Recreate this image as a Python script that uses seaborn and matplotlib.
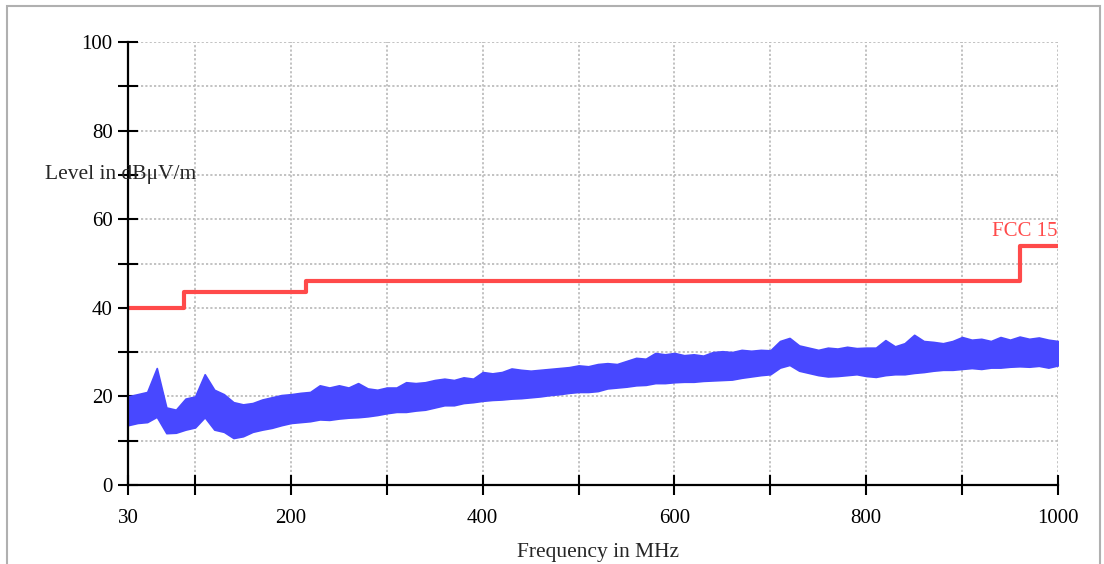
import numpy as np
import pandas as pd
import matplotlib
matplotlib.use('Agg')
import matplotlib.pyplot as plt
import seaborn as sns
from matplotlib.patches import Rectangle

# 测量数据（从图上读取的包络，单位 MHz / dBμV/m）
freq = [30, 40, 50, 60, 70, 80, 90, 100, 110, 120, 130, 140, 150, 160, 170, 180, 190,
        200, 210, 220, 230, 240, 250, 260, 270, 280, 290, 300, 310, 320, 330, 340, 350,
        360, 370, 380, 390, 400, 410, 420, 430, 440, 450, 460, 470, 480, 490, 500, 510,
        520, 530, 540, 550, 560, 570, 580, 590, 600, 610, 620, 630, 640, 650, 660, 670,
        680, 690, 700, 710, 720, 730, 740, 750, 760, 770, 780, 790, 800, 810, 820, 830,
        840, 850, 860, 870, 880, 890, 900, 910, 920, 930, 940, 950, 960, 970, 980, 990, 1000]
level_hi = [20, 20.5, 21, 26.4, 17.5, 17, 19.5, 20, 25, 21.5, 20.5, 18.7, 18.2, 18.5, 19.3, 19.8, 20.3,
            20.5, 20.8, 21, 22.5, 22, 22.5, 22, 23, 21.8, 21.5, 22, 22, 23.2, 23, 23.2, 23.7,
            24, 23.7, 24.3, 24, 25.5, 25.2, 25.5, 26.3, 26, 25.8, 26, 26.2, 26.4, 26.6, 27, 26.8,
            27.3, 27.5, 27.3, 28, 28.7, 28.5, 29.8, 29.5, 29.8, 29.3, 29.5, 29.2, 30, 30.2, 30, 30.5,
            30.3, 30.5, 30.4, 32.5, 33.2, 31.5, 31, 30.5, 31, 30.8, 31.2, 30.9, 31, 31, 32.7, 31.3,
            32, 33.9, 32.5, 32.3, 32, 32.5, 33.4, 32.8, 33, 32.5, 33.4, 32.8, 33.5, 33, 33.3, 32.8, 32.5]
level_lo = [13.5, 14, 14.2, 15.4, 11.7, 11.8, 12.5, 13, 15.3, 12.5, 12, 10.6, 11, 12, 12.5, 12.9, 13.5,
            14, 14.2, 14.4, 14.8, 14.7, 15, 15.2, 15.3, 15.5, 15.8, 16.2, 16.5, 16.5, 16.8, 17, 17.5,
            18, 18, 18.5, 18.7, 19, 19.2, 19.3, 19.5, 19.6, 19.8, 20, 20.3, 20.5, 20.8, 21, 21,
            21.2, 21.8, 22, 22.2, 22.5, 22.6, 23, 23, 23.2, 23.3, 23.3, 23.5, 23.6, 23.7, 23.8, 24.2,
            24.5, 24.8, 25, 26.5, 27.1, 25.8, 25.3, 24.8, 24.5, 24.6, 24.8, 25, 24.6, 24.4, 24.8, 25,
            25, 25.3, 25.5, 25.8, 26, 26, 26.2, 26.4, 26.2, 26.5, 26.5, 26.7, 26.8, 26.7, 26.9, 26.5, 27]

# FCC 15 限值
limit_freq = [30, 88, 216, 960, 1000]
limit_level = [40, 43.5, 46, 54, 54]

x_major = [30, 200, 400, 600, 800, 1000]
x_minor = [100, 300, 500, 700, 900]
y_major = [0, 20, 40, 60, 80, 100]
y_minor = [10, 30, 50, 70, 90]

BLUE = '#4848ff'
RED = '#ff4a4a'

sns.set_style('white')
plt.rcParams['font.family'] = ['Liberation Serif', 'DejaVu Serif']

fig = plt.figure(figsize=(11.04, 5.64), dpi=100)
ax = fig.add_axes([128 / 1104, 1 - 485 / 564, 930 / 1104, 443 / 564])

trace = pd.DataFrame({'f': freq, 'hi': level_hi, 'lo': level_lo})
ax.fill_between(trace['f'], trace['lo'], trace['hi'],
                color=BLUE, lw=1.2, edgecolor=BLUE, zorder=3)

lim = pd.DataFrame({'f': limit_freq, 'level': limit_level})
sns.lineplot(data=lim, x='f', y='level', drawstyle='steps-post',
             color=RED, lw=3, ax=ax, zorder=4)
ax.text(1000, 55, 'FCC 15', ha='right', va='bottom', color=RED, fontsize=15)

ax.set_xlim(30, 1000)
ax.set_ylim(0, 100)
ax.set_xticks(x_major)
ax.set_xticks(x_minor, minor=True)
ax.set_yticks(y_major)
ax.set_yticks(y_minor, minor=True)
ax.tick_params(which='both', bottom=True, left=True, direction='inout', length=14,
               width=1.5, color='black', labelsize=15, labelcolor='black')
ax.tick_params(axis='x', pad=10)
ax.tick_params(axis='y', pad=4)
ax.grid(which='both', color='#bdbdbd', linestyle=(0, (1.2, 1.2)), lw=1.3)
ax.set_axisbelow(True)
for s in ['top', 'right']:
    ax.spines[s].set_visible(False)
for s in ['left', 'bottom']:
    ax.spines[s].set_color('black')
    ax.spines[s].set_linewidth(1.6)
    ax.spines[s].set_zorder(5)
ax.set_xlabel('')
ax.set_ylabel('')

fig.text(45 / 1104, 1 - 175 / 564, 'Level in dBμV/m', ha='left', va='center', fontsize=15.5)
fig.text(598 / 1104, 1 - 553 / 564, 'Frequency in MHz', ha='center', va='center', fontsize=15.5)

# 外框
fig.patches.append(Rectangle((7 / 1104, -0.1), 1093 / 1104, 1.1 - 6 / 564,
                             transform=fig.transFigure, fill=False,
                             edgecolor='#b0b0b0', lw=1.5))

fig.savefig('out.png', dpi=100)
